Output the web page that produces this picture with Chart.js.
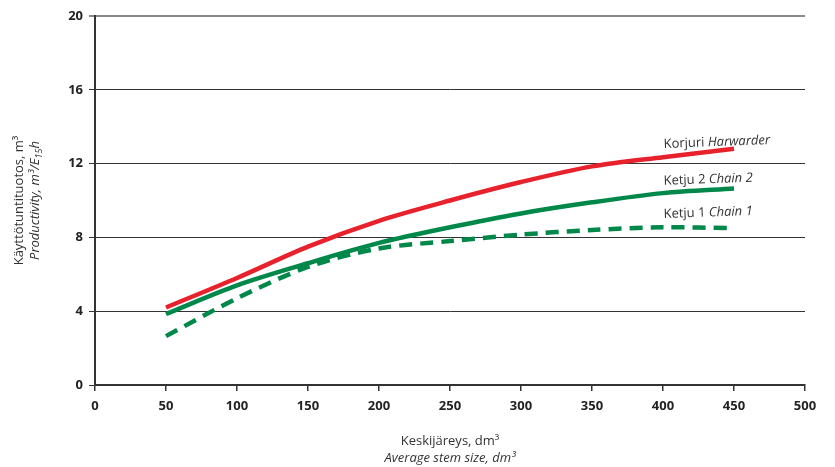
<!DOCTYPE html>
<html>
<head>
<meta charset="utf-8">
<script src="https://cdn.jsdelivr.net/npm/chart.js@4/dist/chart.umd.min.js"></script>
<style>
  html, body { margin: 0; padding: 0; background: #fff; }
  #wrap { width: 835px; height: 467px; }
</style>
</head>
<body>
<div id="wrap"><canvas id="chart"></canvas></div>
<script>
// Average stem size, dm3
const stemSize = [50, 100, 150, 200, 250, 300, 350, 400, 450];
// Productivity, m3/E15h
const harwarder = [4.2, 5.8, 7.5, 8.9, 10.0, 11.0, 11.85, 12.35, 12.8];
const chain2 = [3.85, 5.4, 6.6, 7.7, 8.55, 9.3, 9.9, 10.4, 10.65];
const chain1 = [2.65, 4.7, 6.4, 7.4, 7.8, 8.15, 8.4, 8.55, 8.5];

const xTicks = [0, 50, 100, 150, 200, 250, 300, 350, 400, 450, 500];
const yTicks = [0, 4, 8, 12, 16, 20];

const FONT = "'Open Sans', 'Noto Sans', sans-serif";
const RED = '#e8222c';
const GREEN = '#00884a';

function pts(vals) {
    return stemSize.map((x, i) => ({ x: x, y: vals[i] }));
}

// draws a run of text pieces: [text, italic, size, dy]
function drawRuns(ctx, runs, x, y, align) {
    let total = 0;
    runs.forEach(r => {
        ctx.font = (r[1] ? 'italic ' : '') + r[2] + 'px ' + FONT;
        total += ctx.measureText(r[0]).width;
    });
    let cx = align === 'center' ? x - total / 2 : x;
    runs.forEach(r => {
        ctx.font = (r[1] ? 'italic ' : '') + r[2] + 'px ' + FONT;
        ctx.fillText(r[0], cx, y + (r[3] || 0));
        cx += ctx.measureText(r[0]).width;
    });
}

const labelsPlugin = {
    id: 'labels',
    afterDraw(chart) {
        const ctx = chart.ctx;
        const xs = chart.scales.x, ys = chart.scales.y;
        ctx.save();
        ctx.fillStyle = '#333';
        ctx.textAlign = 'left';
        ctx.textBaseline = 'alphabetic';

        // series labels
        const items = [
            { y: 12.85, runs: [['Korjuri ', false, 13], ['Harwarder', true, 13]] },
            { y: 10.85, runs: [['Ketju 2 ', false, 13], ['Chain 2', true, 13]] },
            { y: 9.05, runs: [['Ketju 1 ', false, 13], ['Chain 1', true, 13]] }
        ];
        items.forEach(it => {
            ctx.save();
            ctx.translate(xs.getPixelForValue(400.5), ys.getPixelForValue(it.y));
            ctx.rotate(-0.035);
            drawRuns(ctx, it.runs, 0, 0, 'left');
            ctx.restore();
        });

        // x axis title
        const cx = (chart.chartArea.left + chart.chartArea.right) / 2;
        drawRuns(ctx, [['Keskijäreys, dm³', false, 13]], cx, 445, 'center');
        drawRuns(ctx, [['Average stem size, dm³', true, 13]], cx, 462, 'center');

        // y axis title
        const cy = (chart.chartArea.top + chart.chartArea.bottom) / 2;
        ctx.save();
        ctx.translate(23, cy);
        ctx.rotate(-Math.PI / 2);
        drawRuns(ctx, [['Käyttötuntituotos, m³', false, 13]], 0, 0, 'center');
        drawRuns(ctx, [['Productivity, m³/E', true, 13], ['15', true, 9, 3], ['h', true, 13]], 0, 16, 'center');
        ctx.restore();
        ctx.restore();
    }
};

new Chart(document.getElementById('chart'), {
    type: 'line',
    data: {
        datasets: [{
            label: 'Korjuri Harwarder',
            data: pts(harwarder),
            borderColor: RED,
            borderWidth: 4.5,
            pointRadius: 0,
            tension: 0.3
        }, {
            label: 'Ketju 2 Chain 2',
            data: pts(chain2),
            borderColor: GREEN,
            borderWidth: 4.5,
            pointRadius: 0,
            tension: 0.3
        }, {
            label: 'Ketju 1 Chain 1',
            data: pts(chain1),
            borderColor: GREEN,
            borderWidth: 4.5,
            borderDash: [13, 8],
            pointRadius: 0,
            tension: 0.3
        }]
    },
    options: {
        responsive: true,
        maintainAspectRatio: false,
        animation: false,
        layout: { padding: { top: 16, right: 30, left: 0, bottom: 0 } },
        plugins: {
            legend: { display: false },
            tooltip: { enabled: false }
        },
        scales: {
            x: {
                type: 'linear',
                min: 0,
                max: 500,
                afterBuildTicks: s => { s.ticks = xTicks.map(v => ({ value: v })); },
                afterFit: s => { s.height = 82; },
                border: { color: '#333', width: 2 },
                grid: { drawOnChartArea: false, color: '#333', tickLength: 6, lineWidth: 1.5 },
                ticks: {
                    color: '#222',
                    padding: 7,
                    font: { family: FONT, size: 13, weight: 'bold' }
                }
            },
            y: {
                min: 0,
                max: 20,
                afterBuildTicks: s => { s.ticks = yTicks.map(v => ({ value: v })); },
                afterFit: s => { s.width = 95; },
                border: { color: '#333', width: 2 },
                grid: {
                    color: ctx => ctx.tick && ctx.tick.value === 20 ? '#8a8a8a' : '#333',
                    lineWidth: ctx => ctx.tick && ctx.tick.value === 20 ? 2 : 1,
                    tickLength: 6
                },
                ticks: {
                    color: '#222',
                    padding: 6,
                    font: { family: FONT, size: 13, weight: 'bold' }
                }
            }
        }
    },
    plugins: [labelsPlugin]
});
</script>
</body>
</html>
